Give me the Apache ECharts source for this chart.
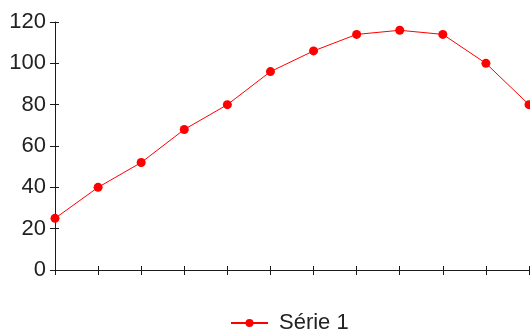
<!DOCTYPE html>
<html>
<head>
<meta charset="utf-8">
<style>
  html, body { margin: 0; padding: 0; background: #fff; }
  #chart { width: 530px; height: 335px; }
</style>
<script src="https://cdn.jsdelivr.net/npm/echarts@6/dist/echarts.min.js"></script>
</head>
<body>
<div id="chart"></div>
<script>
// Categories along the horizontal axis (unlabelled in the drawing)
const categories = ['1', '2', '3', '4', '5', '6', '7', '8', '9', '10', '11', '12'];
// Values of the single series
const serie1 = [25, 40, 52, 68, 80, 96, 106, 114, 116, 114, 100, 80];
const seriesName = 'Série 1';
// Value axis range and step
const yMin = 0;
const yMax = 120;
const yStep = 20;

const chart = echarts.init(document.getElementById('chart'), null, { renderer: 'canvas' });

const font = '"Liberation Sans", Arial, sans-serif';
const axisColor = '#1a1a1a';

chart.setOption({
  animation: false,
  backgroundColor: '#ffffff',
  grid: { left: 55, right: 1, top: 22, bottom: 65, containLabel: false },
  legend: {
    data: [seriesName],
    left: 230,
    top: 312,
    padding: 0,
    itemWidth: 37,
    itemHeight: 10,
    textStyle: { fontFamily: font, fontSize: 22, color: '#222', padding: [0, 0, 0, 6] }
  },
  xAxis: [
    {
      type: 'category',
      data: categories,
      boundaryGap: false,
      axisLine: { lineStyle: { color: axisColor, width: 1 } },
      axisTick: { show: true, inside: false, length: 5, alignWithLabel: true, lineStyle: { color: axisColor } },
      axisLabel: { show: false },
      splitLine: { show: false }
    },
    {
      // second copy supplies the upper half of each crossing tick
      type: 'category',
      data: categories,
      position: 'bottom',
      boundaryGap: false,
      axisLine: { show: false },
      axisTick: { show: true, inside: true, length: 4, lineStyle: { color: axisColor } },
      axisLabel: { show: false },
      splitLine: { show: false }
    }
  ],
  yAxis: [
    {
      type: 'value',
      min: yMin,
      max: yMax,
      interval: yStep,
      axisLine: { show: true, lineStyle: { color: axisColor, width: 1 } },
      axisTick: { show: true, inside: false, length: 5, lineStyle: { color: axisColor } },
      axisLabel: { fontFamily: font, fontSize: 22, color: '#222', margin: 9 },
      splitLine: { show: false }
    },
    {
      type: 'value',
      position: 'left',
      min: yMin,
      max: yMax,
      interval: yStep,
      axisLine: { show: false },
      axisTick: { show: true, inside: true, length: 4, lineStyle: { color: axisColor } },
      axisLabel: { show: false },
      splitLine: { show: false }
    }
  ],
  series: [
    {
      name: seriesName,
      type: 'line',
      xAxisIndex: 0,
      yAxisIndex: 0,
      data: serie1,
      symbol: 'circle',
      symbolSize: 9,
      clip: false,
      itemStyle: { color: '#ff0000' },
      lineStyle: { color: '#ff0000', width: 1 }
    }
  ]
});
</script>
</body>
</html>
